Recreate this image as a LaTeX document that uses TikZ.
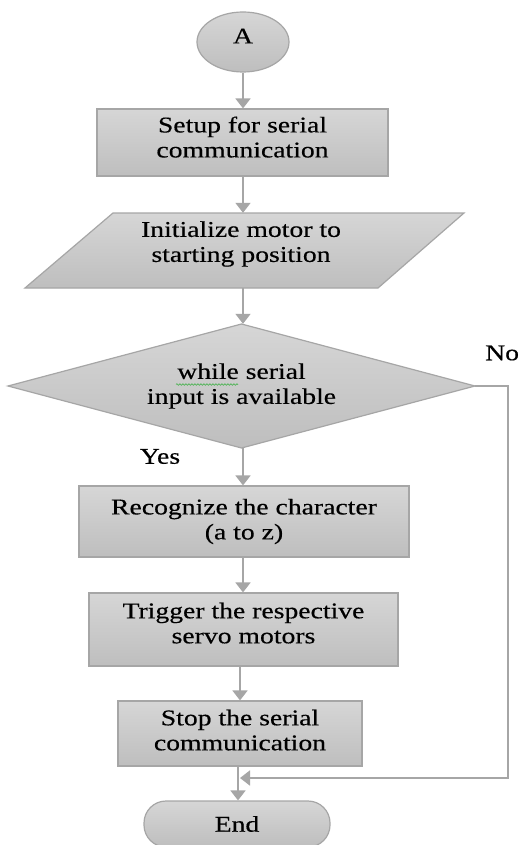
\documentclass[tikz,border=0pt]{standalone}
\usepackage{fontspec}
\setmainfont{Liberation Serif}[FakeStretch=1.23,FakeBold=0.4]
\usetikzlibrary{arrows.meta,shapes.geometric,decorations.pathmorphing}
\definecolor{edgegray}{HTML}{A6A6A6}
\definecolor{filltop}{HTML}{D6D6D6}
\definecolor{fillbot}{HTML}{BEBEBE}
\definecolor{wavegreen}{HTML}{3CB043}
\newcommand{\lowpad}[1]{\rule[-#1]{0pt}{#1}}
\begin{document}
\begin{tikzpicture}[x=1pt,y=-1pt,
  every node/.style={font=\fontsize{22.5}{25}\selectfont, text=black, align=center, inner sep=0pt},
  procbox/.style={draw=edgegray, line width=1.2pt, top color=filltop, bottom color=fillbot},
  flowarrow/.style={draw=edgegray, line width=1.8pt, -{Triangle[width=15pt,length=10pt]}},
  flowline/.style={draw=edgegray, line width=1.8pt},
  ghost/.style={minimum width=#1, minimum height=0pt}
  ]
\useasboundingbox (0,0) rectangle (529,845);
\fill[white] (0,0) rectangle (529,845);

% start terminal
\node[procbox, ellipse, minimum width=92pt, minimum height=60pt] (A) at (243,42) {A\lowpad{12pt}};

% setup box
\node[procbox, minimum width=291pt, minimum height=67pt] (setup) at (242.5,142.5)
  {Setup for serial\\communication\lowpad{11pt}};

% parallelogram
\path[procbox] (113,213) -- (464,213) -- (378,288) -- (25,288) -- cycle;
\node[minimum width=260pt, minimum height=75pt] (init) at (243,250.5) {};
\node (initlbl) at (241,244) {Initialize motor to\\starting position};

% decision
\path[procbox] (241.5,324) -- (475,386) -- (241.5,448) -- (8,386) -- cycle;
\node[minimum width=467pt, minimum height=124pt] (dia) at (241.5,386)
  {while serial\\input is available};
\draw[wavegreen, line width=0.6pt, decorate, decoration={snake, amplitude=0.8pt, segment length=3pt}]
  (176,384.5) -- (238,384.5);

% process boxes
\node[procbox, minimum width=330pt, minimum height=71pt] (rec) at (244,521.5)
  {Recognize the character\\(a to z)\lowpad{4pt}};
\node[procbox, minimum width=309pt, minimum height=73pt] (trig) at (243.5,629.5)
  {Trigger the respective\\servo motors\lowpad{13pt}};
\node[procbox, minimum width=244pt, minimum height=65pt] (stop) at (240,733.5)
  {Stop the serial\\communication\lowpad{7pt}};

% end terminal
\node[procbox, rounded corners=22pt, minimum width=186pt, minimum height=46pt] (endn) at (237,824) {End};

% labels
\node[anchor=west] (nolbl) at (485,353) {No};
\node (yeslbl) at (160,456.5) {Yes};

% connectors
\draw[flowarrow] (A.south) -- (A.south |- setup.north);
\draw[flowarrow] (setup.south -| A.south) -- (init.north -| A.south);
\draw[flowarrow] (init.south) -- (init.south |- dia.north);
\draw[flowarrow] (dia.south -| init.south) -- (rec.north -| init.south);
\draw[flowarrow] (rec.south -| init.south) -- (trig.north -| init.south);
\draw[flowarrow] (stop.north |- trig.south) -- (stop.north);
\draw[flowarrow] (stop.south -| 238,0) -- (endn.north -| 238,0);
\coordinate (nocorner) at (508,778);
\draw[flowarrow] (dia.east) -| (nocorner) -- (nocorner -| stop.south);
\end{tikzpicture}
\end{document}
